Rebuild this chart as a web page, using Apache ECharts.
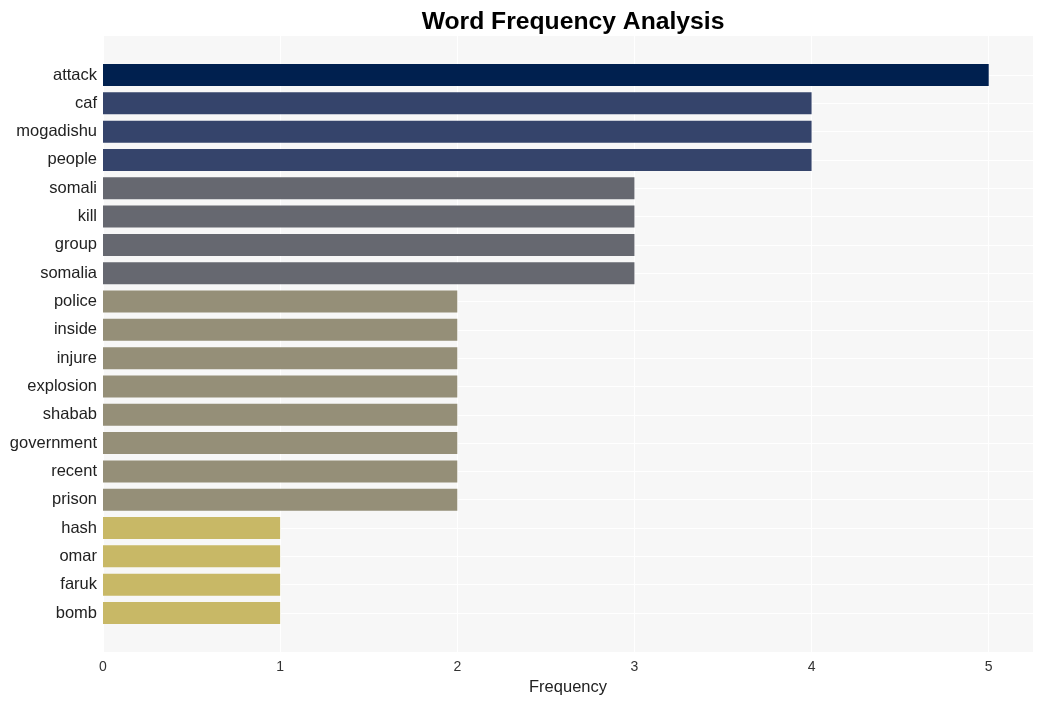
<!DOCTYPE html>
<html><head><meta charset="utf-8">
<script src="https://cdn.jsdelivr.net/npm/echarts@6/dist/echarts.min.js"></script>
<style>html,body{margin:0;padding:0;background:#fff}#c{width:1042px;height:701px}</style>
</head><body><div id="c"></div>
<script>
const categories = ["attack","caf","mogadishu","people","somali","kill","group","somalia","police","inside","injure","explosion","shabab","government","recent","prison","hash","omar","faruk","bomb"];
const values = [5,4,4,4,3,3,3,3,2,2,2,2,2,2,2,2,1,1,1,1];
const xTicks = [0,1,2,3,4,5];
const colorByValue = {5:"#00204f",4:"#35446b",3:"#666870",2:"#958f78",1:"#c8b866"};

const font = "Liberation Sans, Arial, sans-serif";
const chart = echarts.init(document.getElementById('c'));
chart.setOption({
  animation:false,
  title:{text:"Word Frequency Analysis",left:568,textAlign:'center',top:5,
    textStyle:{fontFamily:font,fontWeight:'bold',fontSize:24.7,color:'#000'}},
  grid:[
    {left:103,right:9,top:36,bottom:49,show:true,backgroundColor:'#f7f7f7',borderWidth:0,z:-1},
    {left:103,right:9,top:75,bottom:88}
  ],
  xAxis:[
    {gridIndex:0,type:'value',min:0,max:5.25,interval:1,
      axisLine:{show:false},axisTick:{show:false},
      axisLabel:{fontFamily:font,fontSize:14,color:'#333',margin:8,
        formatter:v=>xTicks.includes(v)?String(v):''},
      splitLine:{show:true,lineStyle:{color:'#ffffff',width:1.2}},
      name:'Frequency',nameLocation:'middle',nameGap:26,
      nameTextStyle:{fontFamily:font,fontSize:16.5,color:'#222'}},
    {gridIndex:1,type:'value',min:0,max:5.25,show:false,splitLine:{show:false}}
  ],
  yAxis:[
    {gridIndex:0,type:'value',show:false,splitLine:{show:false}},
    {gridIndex:1,type:'category',data:categories,inverse:true,boundaryGap:false,
      axisLine:{show:false},axisTick:{show:false},
      axisLabel:{fontFamily:font,fontSize:16.5,color:'#222',margin:6,padding:[10,0,0,0]},
      splitLine:{show:true,lineStyle:{color:'#ffffff',width:1.2}}}
  ],
  series:[{
    type:'bar',xAxisIndex:1,yAxisIndex:1,barWidth:22,
    data:values.map(v=>({value:v,itemStyle:{color:colorByValue[v]}}))
  }]
});
</script></body></html>
